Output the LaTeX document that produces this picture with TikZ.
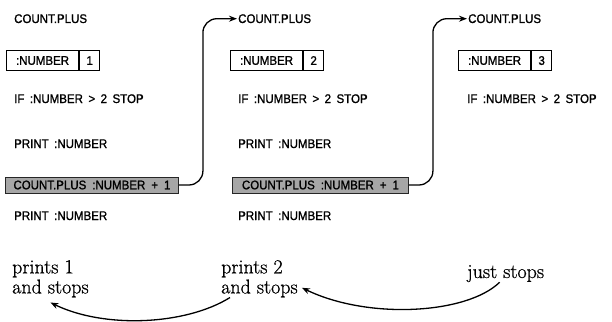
\documentclass[tikz,border=0pt]{standalone}
\usepackage{fontspec}
\usetikzlibrary{arrows.meta}
\newfontfamily\codefont[FakeStretch=0.92,FakeBold=1.2]{Liberation Sans}
\newfontfamily\notefont[FakeBold=0.8]{Latin Modern Roman}
\begin{document}
\begin{tikzpicture}[x=1pt,y=-1pt,
  code/.style={font={\fontsize{12.5}{14}\codefont\spaceskip=5.5pt plus 1pt}, inner sep=0pt, anchor=base west},
  namecell/.style={draw, line width=1.1pt, inner sep=0pt, minimum width=72pt, minimum height=20pt,
    font={\fontsize{12.5}{14}\codefont}, anchor=north west},
  valcell/.style={draw, line width=1.1pt, inner sep=0pt, minimum width=20pt, minimum height=20pt,
    font={\fontsize{12.5}{14}\codefont}, anchor=north west},
  callbox/.style={draw=black!85, fill=black!35, line width=0.9pt, inner sep=0pt, minimum height=16pt,
    font={\fontsize{12.5}{14}\codefont\spaceskip=6pt plus 1pt}, anchor=west},
  note/.style={font={\fontsize{20}{20}\notefont}, inner sep=0pt, align=left},
  link/.style={line width=1.3pt, rounded corners=14pt, -{Stealth[length=8pt,width=6pt]}},
  back/.style={line width=1.3pt, -{Stealth[length=8pt,width=6pt]}}
]
\useasboundingbox (0,0) rectangle (612,321);

% first call
\node[code] (c1) at (14,23) {COUNT.PLUS};
\node[namecell] (k1) at (6,50) {:NUMBER};
\node[valcell] (v1) at (k1.north east) {1};
\node[code] (if1) at (14,103) {IF :NUMBER > 2 STOP};
\node[code] (pa1) at (14,148) {PRINT :NUMBER};
\node[callbox, minimum width=173pt] (g1) at (5,185) {COUNT.PLUS :NUMBER + 1};
\node[code] (pb1) at (14,220) {PRINT :NUMBER};

% second call
\node[code] (c2) at (238,23) {COUNT.PLUS};
\node[namecell] (k2) at (230,50) {:NUMBER};
\node[valcell] (v2) at (k2.north east) {2};
\node[code] (if2) at (238,103) {IF :NUMBER > 2 STOP};
\node[code] (pa2) at (238,148) {PRINT :NUMBER};
\node[callbox, minimum width=176pt] (g2) at (232,185) {COUNT.PLUS :NUMBER + 1};
\node[code] (pb2) at (238,220) {PRINT :NUMBER};

% third call
\node[code] (c3) at (468,23) {COUNT.PLUS};
\node[namecell] (k3) at (458,50) {:NUMBER};
\node[valcell] (v3) at (k3.north east) {3};
\node[code] (if3) at (467,103) {IF :NUMBER > 2 STOP};

% recursive calls
\draw[link] (g1.east) -- ++(24,0) |- ([xshift=-1pt]c2.west);
\draw[link] (g2.east) -- ++(24,0) |- ([xshift=-1pt]c3.west);

% what each call does
\node[note, anchor=north west] (p1) at (12,260) {prints 1\\and stops};
\node[note, anchor=north west] (p2) at (221,260) {prints 2\\and stops};
\node[note, anchor=base west] (j) at (467,278) {just stops};

\draw[back] ([xshift=-6pt]j.south) .. controls +(-33,32) and +(66,32) .. ([xshift=4pt,yshift=-9pt]p2.east);
\draw[back] ([xshift=9pt]p2.south west) .. controls +(-45,28) and +(53,26) .. ([yshift=-5pt]p1.south);
\end{tikzpicture}
\end{document}
